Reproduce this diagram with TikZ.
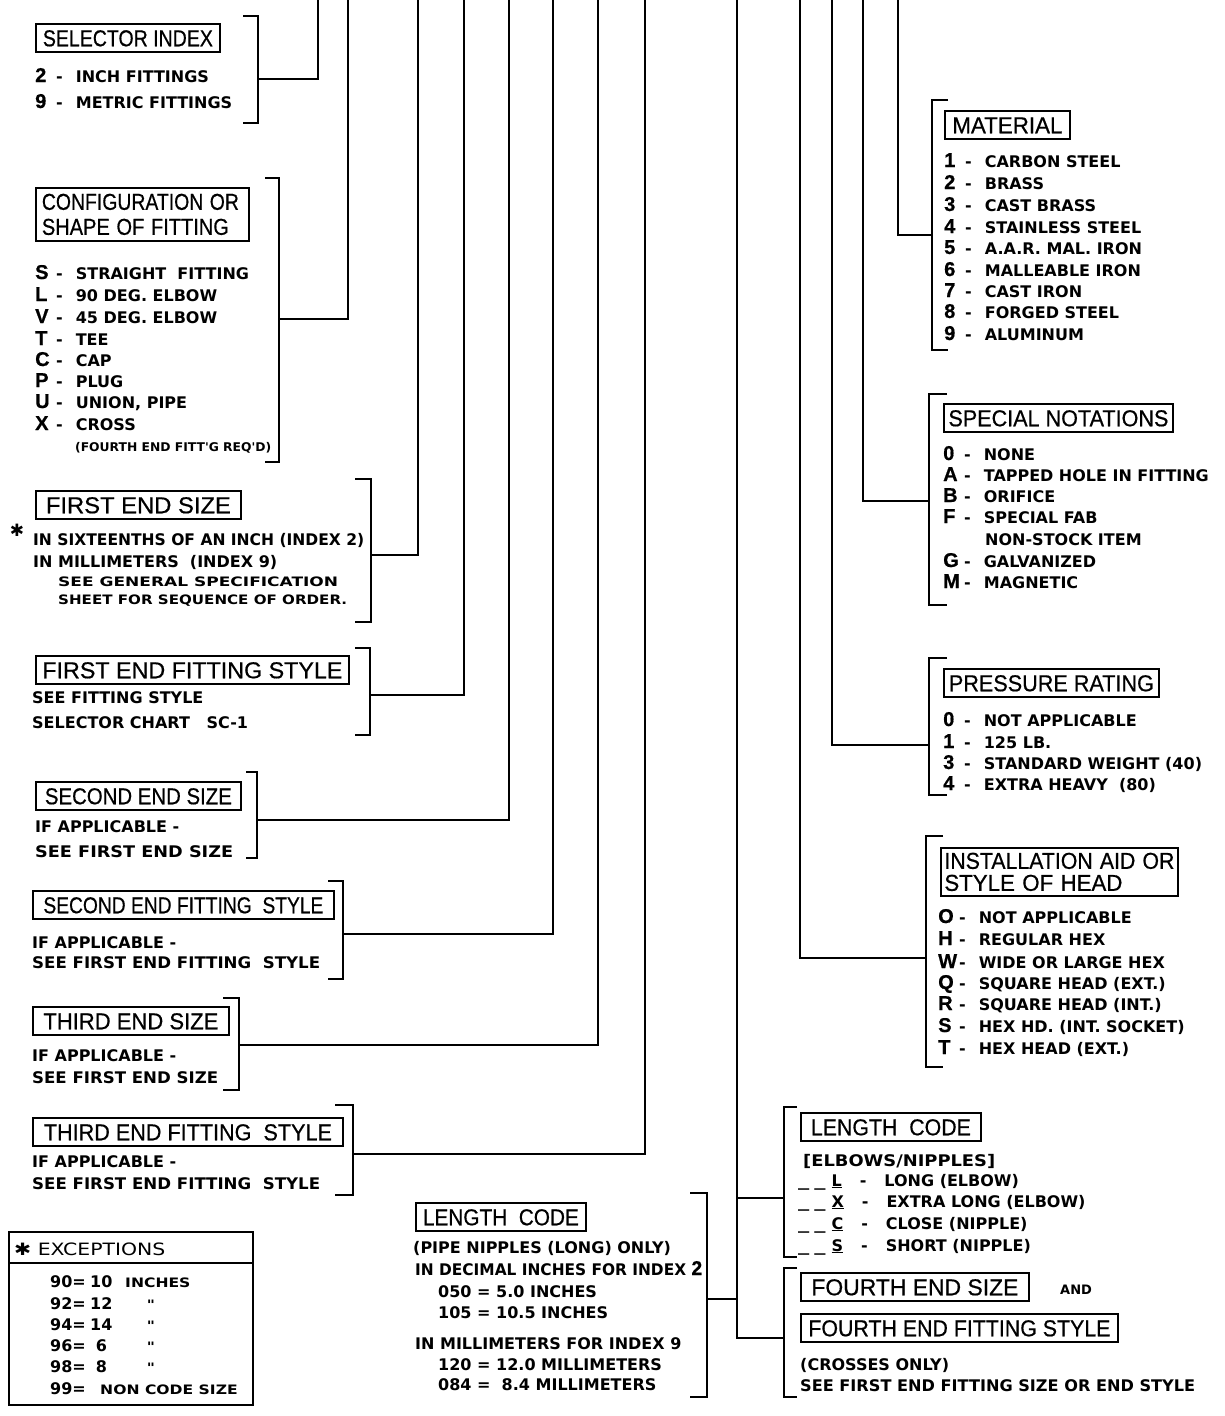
\documentclass[tikz,border=0pt]{standalone}
\usepackage{fontspec}
\usepackage{graphicx}
\setmainfont{DejaVu Sans}
\newfontfamily\ttlf[FakeBold=0.6]{Liberation Sans}
\newfontfamily\bdyf{DejaVu Sans}
\newfontfamily\widef[FakeStretch=1.2]{DejaVu Sans}
\newcommand\fitt[2]{\resizebox{#1pt}{\height}{#2}}
\newcommand\cd[1]{\makebox[14pt][l]{\ttlf\fontsize{20}{20}\selectfont #1}\hspace{7pt}-\hspace{13pt}}
\newcommand\dd{\scalebox{1.4}[1]{\_}\hspace{5pt}\scalebox{1.4}[1]{\_}\hspace{6pt}}
\newcommand\brk[4]{\draw[brk] (#1,#3) -- (#2,#3) -- (#2,#4) -- (#1,#4);}
\tikzset{
  conn/.style={line width=1.8pt},
  brk/.style={line width=2.2pt},
  tbox/.style={draw, line width=1.8pt, anchor=west, inner sep=0pt, minimum height=28pt,
    text height=16.5pt, text depth=0pt, font=\ttlf\fontsize{23}{25}\selectfont},
  tbox2/.style={draw, line width=1.8pt, anchor=north west, align=left, inner ysep=3pt,
    font=\ttlf\fontsize{23}{25}\selectfont},
  bl/.style={anchor=base west, inner sep=0pt, font=\bdyf\bfseries\fontsize{16}{18}\selectfont},
  sl/.style={anchor=base west, inner sep=0pt, font=\widef\bfseries\fontsize{13}{15}\selectfont},
  xs/.style={anchor=base west, inner sep=0pt, font=\bdyf\bfseries\fontsize{12}{14}\selectfont},
}
\begin{document}
\begin{tikzpicture}[x=1pt,y=-1pt]
\fill[white] (0,0) rectangle (1225,1416);
\useasboundingbox (0,0) rectangle (1225,1416);

% ---------- vertical trunk tops ----------
\foreach \n/\x in {1/318,2/348,3/418,4/464,5/509,6/553,7/598,8/645,9/737,13/800,12/832,11/863,10/898}
  \coordinate (v\n) at (\x,0);

% ---------- brackets ----------
\brk{243}{258}{16}{123}
\brk{265}{279}{178}{462}
\brk{355}{371}{479}{622}
\brk{355}{370}{648}{735}
\brk{246}{257}{772}{858}
\brk{328}{343}{881}{979}
\brk{223}{239}{998}{1090}
\brk{335}{353}{1105}{1195}
\brk{690}{707}{1193}{1397}
\brk{948}{932}{100}{350}
\brk{947}{929}{394}{605}
\brk{947}{929}{658}{795}
\brk{943}{926}{836}{1067}
\brk{797}{784}{1107}{1257}
\brk{797}{784}{1268}{1397}

% ---------- connectors ----------
\coordinate (k1) at (258,79);   \draw[conn] (k1) -| (v1);
\coordinate (k2) at (279,319);  \draw[conn] (k2) -| (v2);
\coordinate (k3) at (371,555);  \draw[conn] (k3) -| (v3);
\coordinate (k4) at (370,695);  \draw[conn] (k4) -| (v4);
\coordinate (k5) at (257,820);  \draw[conn] (k5) -| (v5);
\coordinate (k6) at (343,934);  \draw[conn] (k6) -| (v6);
\coordinate (k7) at (239,1045); \draw[conn] (k7) -| (v7);
\coordinate (k8) at (353,1154); \draw[conn] (k8) -| (v8);
\coordinate (k10) at (932,235); \draw[conn] (k10) -| (v10);
\coordinate (k11) at (929,501); \draw[conn] (k11) -| (v11);
\coordinate (k12) at (929,745); \draw[conn] (k12) -| (v12);
\coordinate (k13) at (926,958); \draw[conn] (k13) -| (v13);
\coordinate (k15) at (784,1338); \draw[conn] (k15) -| (v9);
\coordinate (k14) at (784,1198); \draw[conn] (k14) -- (k14 -| v9);
\coordinate (k16) at (707,1299); \draw[conn] (k16) -- (k16 -| v9);

% ---------- SELECTOR INDEX ----------
\node[tbox, minimum width=184pt] (t1) at (35,38) {\fitt{170}{SELECTOR INDEX}};
\node[bl] (s1) at (35,82) {\cd{2}INCH FITTINGS};
\node[bl] (s2) at (35,108) {\cd{9}METRIC FITTINGS};

% ---------- CONFIGURATION ----------
\node[tbox2, text width=201pt, inner xsep=6pt, minimum height=53pt] (t2) at (35,187)
  {\fitt{197}{CONFIGURATION OR}\\\fitt{187}{SHAPE OF FITTING}};
\node[bl] (c1) at (35,279) {\cd{S}STRAIGHT\ \ FITTING};
\node[bl] (c2) at (35,301) {\cd{L}90 DEG. ELBOW};
\node[bl] (c3) at (35,323) {\cd{V}45 DEG. ELBOW};
\node[bl] (c4) at (35,345) {\cd{T}TEE};
\node[bl] (c5) at (35,366) {\cd{C}CAP};
\node[bl] (c6) at (35,387) {\cd{P}PLUG};
\node[bl] (c7) at (35,408) {\cd{U}UNION, PIPE};
\node[bl] (c8) at (35,430) {\cd{X}CROSS};
\node[xs] (c9) at (75,451) {\fitt{196}{(FOURTH END FITT'G REQ'D)}};

% ---------- FIRST END SIZE ----------
\node[tbox, minimum width=205pt] (t3) at (35,505) {\fitt{185}{FIRST END SIZE}};
\node[anchor=center, inner sep=0pt, font=\fontsize{17}{17}\selectfont] (ast) at (17,530) {✱};
\node[bl] (f1) at (33,545) {\fitt{331}{IN SIXTEENTHS OF AN INCH (INDEX 2)}};
\node[bl] (f2) at (33,567) {IN MILLIMETERS\ \ (INDEX 9)};
\node[sl] (f3) at (58,586) {\fitt{280}{SEE GENERAL SPECIFICATION}};
\node[sl] (f4) at (58,604) {\fitt{289}{SHEET FOR SEQUENCE OF ORDER.}};

% ---------- FIRST END FITTING STYLE ----------
\node[tbox, minimum width=313pt] (t4) at (35,670) {\fitt{300}{FIRST END FITTING STYLE}};
\node[bl] (g1) at (32,703) {SEE FITTING STYLE};
\node[bl] (g2) at (32,728) {SELECTOR CHART\ \ \ SC-1};

% ---------- SECOND END SIZE ----------
\node[tbox, minimum width=205pt] (t5) at (35,796) {\fitt{187}{SECOND END SIZE}};
\node[bl] (h1) at (35,832) {IF APPLICABLE -};
\node[bl] (h2) at (35,857) {\fitt{198}{SEE FIRST END SIZE}};

% ---------- SECOND END FITTING STYLE ----------
\node[tbox, minimum width=301pt] (t6) at (32,905) {\fitt{280}{SECOND END FITTING\ \ STYLE}};
\node[bl] (i1) at (32,948) {IF APPLICABLE -};
\node[bl] (i2) at (32,968) {\fitt{288}{SEE FIRST END FITTING\ \ STYLE}};

% ---------- THIRD END SIZE ----------
\node[tbox, minimum width=196pt] (t7) at (32,1021) {\fitt{175}{THIRD END SIZE}};
\node[bl] (j1) at (32,1061) {IF APPLICABLE -};
\node[bl] (j2) at (32,1083) {\fitt{186}{SEE FIRST END SIZE}};

% ---------- THIRD END FITTING STYLE ----------
\node[tbox, minimum width=310pt] (t8) at (32,1132) {\fitt{288}{THIRD END FITTING\ \ STYLE}};
\node[bl] (m1) at (32,1167) {IF APPLICABLE -};
\node[bl] (m2) at (32,1189) {\fitt{288}{SEE FIRST END FITTING\ \ STYLE}};

% ---------- EXCEPTIONS ----------
\node[draw, line width=2pt, anchor=north west, inner sep=0pt, minimum width=244pt, minimum height=173pt] (exc) at (8,1231) {};
\coordinate (eh) at (0,1263);
\draw[line width=1.8pt] (exc.west |- eh) -- (exc.east |- eh);
\node[anchor=base west, inner sep=0pt, font=\widef\fontsize{17}{17}\selectfont] (exh) at (14,1255) {✱ EXCEPTIONS};
\foreach \nm/\yy/\a/\b/\c in {x1/1287/90=/10/INCHES, x2/1309/92=/12/{\ \ \ \ "}, x3/1330/94=/14/{\ \ \ \ "}, x4/1351/96=/\ 6/{\ \ \ \ "}, x5/1372/98=/\ 8/{\ \ \ \ "}}{
  \node[bl] (\nm a) at (50,\yy) {\a};
  \node[bl] (\nm b) at (90,\yy) {\b};
  \node[sl] (\nm c) at (125,\yy) {\c};
}
\node[bl] (x6a) at (50,1394) {99=};
\node[sl] (x6c) at (100,1394) {NON CODE SIZE};

% ---------- LENGTH CODE (pipe nipples) ----------
\node[tbox, minimum width=170pt] (t16) at (415,1217) {\fitt{156}{LENGTH\ \ CODE}};
\node[bl] (n1) at (413,1253) {(PIPE NIPPLES (LONG) ONLY)};
\node[bl] (n2) at (415,1275) {\fitt{287}{IN DECIMAL INCHES FOR INDEX {\ttlf\fontsize{20}{20}\selectfont 2}}};
\node[bl] (n3) at (438,1297) {050 = 5.0 INCHES};
\node[bl] (n4) at (438,1318) {105 = 10.5 INCHES};
\node[bl] (n5) at (415,1349) {IN MILLIMETERS FOR INDEX 9};
\node[bl] (n6) at (438,1370) {120 = 12.0 MILLIMETERS};
\node[bl] (n7) at (438,1390) {084 =\ \ 8.4 MILLIMETERS};

% ---------- MATERIAL ----------
\node[tbox, minimum width=125pt] (t10) at (944,125) {\fitt{110}{MATERIAL}};
\node[bl] (a1) at (944,167) {\cd{1}CARBON STEEL};
\node[bl] (a2) at (944,189) {\cd{2}BRASS};
\node[bl] (a3) at (944,211) {\cd{3}CAST BRASS};
\node[bl] (a4) at (944,233) {\cd{4}STAINLESS STEEL};
\node[bl] (a5) at (944,254) {\cd{5}A.A.R. MAL. IRON};
\node[bl] (a6) at (944,276) {\cd{6}MALLEABLE IRON};
\node[bl] (a7) at (944,297) {\cd{7}CAST IRON};
\node[bl] (a8) at (944,318) {\cd{8}FORGED STEEL};
\node[bl] (a9) at (944,340) {\cd{9}ALUMINUM};

% ---------- SPECIAL NOTATIONS ----------
\node[tbox, minimum width=229pt] (t11) at (943,418) {\fitt{220}{SPECIAL NOTATIONS}};
\node[bl] (b1) at (943,460) {\cd{0}NONE};
\node[bl] (b2) at (943,481) {\cd{A}\fitt{225}{TAPPED HOLE IN FITTING}};
\node[bl] (b3) at (943,502) {\cd{B}ORIFICE};
\node[bl] (b4) at (943,523) {\cd{F}SPECIAL FAB};
\node[bl] (b5) at (985,545) {NON-STOCK ITEM};
\node[bl] (b6) at (943,567) {\cd{G}GALVANIZED};
\node[bl] (b7) at (943,588) {\cd{M}MAGNETIC};

% ---------- PRESSURE RATING ----------
\node[tbox, minimum width=215pt] (t12) at (943,683) {\fitt{205}{PRESSURE RATING}};
\node[bl] (p1) at (943,726) {\cd{0}NOT APPLICABLE};
\node[bl] (p2) at (943,748) {\cd{1}125 LB.};
\node[bl] (p3) at (943,769) {\cd{3}STANDARD WEIGHT (40)};
\node[bl] (p4) at (943,790) {\cd{4}EXTRA HEAVY\ \ (80)};

% ---------- INSTALLATION AID ----------
\node[tbox2, text width=230pt, inner xsep=3.5pt, minimum height=48pt,
  font=\ttlf\fontsize{23}{22}\selectfont] (t13) at (940,847)
  {\fitt{230}{INSTALLATION AID OR}\\\fitt{178}{STYLE OF HEAD}};
\node[bl] (q1) at (938,923) {\cd{O}NOT APPLICABLE};
\node[bl] (q2) at (938,945) {\cd{H}REGULAR HEX};
\node[bl] (q3) at (938,968) {\cd{W}WIDE OR LARGE HEX};
\node[bl] (q4) at (938,989) {\cd{Q}SQUARE HEAD (EXT.)};
\node[bl] (q5) at (938,1010) {\cd{R}SQUARE HEAD (INT.)};
\node[bl] (q6) at (938,1032) {\cd{S}HEX HD. (INT. SOCKET)};
\node[bl] (q7) at (938,1054) {\cd{T}HEX HEAD (EXT.)};

% ---------- LENGTH CODE (elbows / nipples) ----------
\node[tbox, minimum width=180pt] (t14) at (800,1127) {\fitt{160}{LENGTH\ \ CODE}};
\node[bl] (e1) at (803,1166) {\fitt{192}{[ELBOWS/NIPPLES]}};
\node[bl] (e2) at (798,1186) {\dd\underline{L}\hspace{18pt}-\hspace{18pt}LONG (ELBOW)};
\node[bl] (e3) at (798,1207) {\dd\underline{X}\hspace{18pt}-\hspace{18pt}EXTRA LONG (ELBOW)};
\node[bl] (e4) at (798,1229) {\dd\underline{C}\hspace{18pt}-\hspace{18pt}CLOSE (NIPPLE)};
\node[bl] (e5) at (798,1251) {\dd\underline{S}\hspace{18pt}-\hspace{18pt}SHORT (NIPPLE)};

% ---------- FOURTH END ----------
\node[tbox, minimum width=228pt] (t15a) at (800,1287) {\fitt{207}{FOURTH END SIZE}};
\node[anchor=base west, inner sep=0pt, font=\bdyf\bfseries\fontsize{13}{13}\selectfont] (and) at (1060,1294) {AND};
\node[tbox, minimum width=317pt] (t15b) at (800,1328) {\fitt{302}{FOURTH END FITTING STYLE}};
\node[bl] (o1) at (800,1370) {(CROSSES ONLY)};
\node[bl] (o2) at (800,1391) {\fitt{395}{SEE FIRST END FITTING SIZE OR END STYLE}};

\end{tikzpicture}
\end{document}
